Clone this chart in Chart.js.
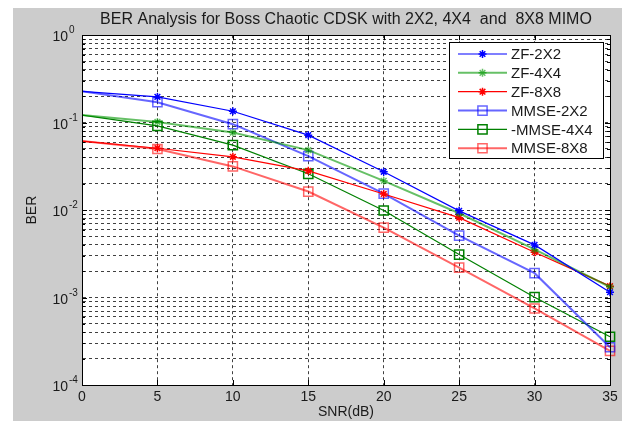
<!DOCTYPE html>
<html><head><meta charset="utf-8">
<style>html,body{margin:0;padding:0;background:#fff;overflow:hidden}canvas{display:block}</style>
<script src="https://cdn.jsdelivr.net/npm/chart.js@4"></script>
</head><body>
<canvas id="c" width="622" height="421"></canvas>
<script>
// ---- data ----
const snrValues = [0, 5, 10, 15, 20, 25, 30, 35];
const xTickLabels = ['0', '5', '10', '15', '20', '25', '30', '35'];
const seriesNames = ['ZF-2X2', 'ZF-4X4', 'ZF-8X8', 'MMSE-2X2', '-MMSE-4X4', 'MMSE-8X8'];
const berZF2x2   = [0.228, 0.197, 0.135, 0.072, 0.0274, 0.0098, 0.0040, 0.00115];
const berZF4x4   = [0.122, 0.102, 0.077, 0.0485, 0.0216, 0.0092, 0.00355, 0.00132];
const berZF8x8   = [0.0615, 0.051, 0.0407, 0.0281, 0.0153, 0.0082, 0.0033, 0.00135];
const berMMSE2x2 = [0.228, 0.171, 0.096, 0.0414, 0.0154, 0.0051, 0.0019, 0.00027];
const berMMSE4x4 = [0.122, 0.092, 0.0553, 0.026, 0.0099, 0.0031, 0.00101, 0.000356];
const berMMSE8x8 = [0.0615, 0.050, 0.0316, 0.0163, 0.0063, 0.0022, 0.00075, 0.000245];
const yDecades = [1e-4, 1e-3, 1e-2, 1e-1, 1];
const yTickBase = '10';
const yTickExponents = ['-4', '-3', '-2', '-1', '0'];
const yMinorMultipliers = [2, 3, 4, 5, 6, 7, 8, 9];
const chartTitle = 'BER Analysis for Boss Chaotic CDSK with 2X2, 4X4  and  8X8 MIMO';
const xTitle = 'SNR(dB)';
const yTitle = 'BER';

// ---- styles ----
const FONT = "'Liberation Sans', Arial, Helvetica, sans-serif";
const TEXT = '#1a1a1a';
const seriesList = [berZF2x2, berZF4x4, berZF8x8, berMMSE2x2, berMMSE4x4, berMMSE8x8];
const seriesStyles = [
  { color: '#0000ff', width: 1.2, point: 'star', radius: 4 },
  { color: 'rgba(0,150,0,0.6)', width: 2, point: 'star', radius: 4 },
  { color: '#ff0000', width: 1.2, point: 'star', radius: 4 },
  { color: 'rgba(0,0,255,0.6)', width: 2, point: 'rect', radius: 6.5 },
  { color: '#008000', width: 1.2, point: 'rect', radius: 6.5 },
  { color: 'rgba(255,0,0,0.6)', width: 2, point: 'rect', radius: 6.5 }
];

const yTickValues = [];
yDecades.forEach((d, i) => {
  yTickValues.push(d);
  if (i < yDecades.length - 1) yMinorMultipliers.forEach(m => yTickValues.push(d * m));
});
function majorIndex(v) {
  return yDecades.findIndex(d => Math.abs(d - v) < d * 1e-6);
}

Chart.defaults.font.family = FONT;
Chart.defaults.color = TEXT;

const datasets = seriesList.map((s, k) => ({
  label: seriesNames[k],
  data: snrValues.map((x, i) => ({ x: x, y: s[i] })),
  borderColor: seriesStyles[k].color,
  borderWidth: seriesStyles[k].width,
  pointStyle: seriesStyles[k].point,
  // marker at the left axis edge is hidden behind the frame in the reference
  pointRadius: snrValues.map((x, i) => (i === 0 ? 0 : seriesStyles[k].radius)),
  pointBorderColor: seriesStyles[k].color,
  pointBackgroundColor: 'rgba(0,0,0,0)',
  pointBorderWidth: 1.5,
  fill: false,
  tension: 0,
  clip: false
}));

const bgPlugin = {
  id: 'bg',
  beforeDraw(chart) {
    const { ctx, chartArea: a } = chart;
    ctx.save();
    ctx.fillStyle = '#ffffff';
    ctx.fillRect(0, 0, chart.width, chart.height);
    ctx.fillStyle = '#cccccc';
    ctx.fillRect(13, 8, chart.width - 13, chart.height - 8);
    ctx.fillStyle = '#ffffff';
    ctx.fillRect(a.left, a.top, a.right - a.left, a.bottom - a.top);
    ctx.restore();
  }
};

function drawMarker(ctx, style, x, y, r) {
  ctx.beginPath();
  if (style === 'star') {
    ctx.moveTo(x - r, y); ctx.lineTo(x + r, y);
    ctx.moveTo(x, y - r); ctx.lineTo(x, y + r);
    const d = r * Math.SQRT1_2;
    ctx.moveTo(x - d, y - d); ctx.lineTo(x + d, y + d);
    ctx.moveTo(x - d, y + d); ctx.lineTo(x + d, y - d);
  } else {
    const s = r * Math.SQRT1_2;
    ctx.rect(x - s, y - s, 2 * s, 2 * s);
  }
  ctx.stroke();
}

const frameLegendPlugin = {
  id: 'frameLegend',
  afterDraw(chart) {
    const { ctx, chartArea: a, scales } = chart;
    ctx.save();
    // inner tick marks
    ctx.strokeStyle = '#000';
    ctx.lineWidth = 1;
    ctx.setLineDash([]);
    ctx.beginPath();
    scales.x.ticks.forEach(t => {
      const px = Math.round(scales.x.getPixelForValue(t.value)) + 0.5;
      ctx.moveTo(px, a.bottom); ctx.lineTo(px, a.bottom - 5);
      ctx.moveTo(px, a.top); ctx.lineTo(px, a.top + 5);
    });
    yTickValues.forEach(v => {
      const py = Math.round(scales.y.getPixelForValue(v)) + 0.5;
      const len = majorIndex(v) >= 0 ? 5 : 3;
      ctx.moveTo(a.left, py); ctx.lineTo(a.left + len, py);
      ctx.moveTo(a.right, py); ctx.lineTo(a.right - len, py);
    });
    ctx.stroke();
    // box
    ctx.strokeRect(Math.round(a.left) + 0.5, Math.round(a.top) + 0.5,
      Math.round(a.right - a.left), Math.round(a.bottom - a.top));

    // y tick labels: base with superscript exponent
    ctx.fillStyle = TEXT;
    ctx.textBaseline = 'alphabetic';
    yDecades.forEach((d, i) => {
      const py = scales.y.getPixelForValue(d);
      ctx.font = '14px ' + FONT;
      ctx.textAlign = 'right';
      ctx.fillText(yTickBase, 68, py + 6);
      ctx.font = '10px ' + FONT;
      ctx.textAlign = 'left';
      ctx.fillText(yTickExponents[i], 69, py - 2);
    });

    // legend
    const lx = 449.5, ly = 42.5, lw = 154, lh = 116;
    ctx.fillStyle = '#ffffff';
    ctx.fillRect(lx, ly, lw, lh);
    ctx.strokeStyle = '#000';
    ctx.strokeRect(lx, ly, lw, lh);
    ctx.font = '15px ' + FONT;
    ctx.textBaseline = 'middle';
    ctx.textAlign = 'left';
    chart.data.datasets.forEach((ds, k) => {
      const st = seriesStyles[k];
      const y = 54 + k * 18.85;
      ctx.strokeStyle = st.color;
      ctx.lineWidth = st.width;
      ctx.beginPath();
      ctx.moveTo(458, y); ctx.lineTo(507, y);
      ctx.stroke();
      ctx.lineWidth = 1.5;
      drawMarker(ctx, st.point, 482.5, y, st.radius);
      ctx.fillStyle = TEXT;
      ctx.fillText(ds.label, 511, y + 1);
    });
    ctx.restore();
  }
};

new Chart(document.getElementById('c'), {
  type: 'line',
  data: { datasets: datasets },
  options: {
    responsive: false,
    animation: false,
    events: [],
    layout: { padding: { left: 0, right: 12, top: 0, bottom: 0 } },
    plugins: {
      legend: { display: false },
      tooltip: { enabled: false },
      title: {
        display: true,
        text: chartTitle,
        fullSize: false,
        color: TEXT,
        font: { size: 16, weight: 'normal', family: FONT },
        padding: { top: 10, bottom: 6 }
      }
    },
    scales: {
      x: {
        type: 'linear',
        min: 0, max: 35,
        afterBuildTicks(s) { s.ticks = snrValues.map(v => ({ value: v })); },
        afterFit(s) { s.height = 36; },
        ticks: {
          autoSkip: false, maxRotation: 0, padding: 4,
          color: TEXT,
          font: { size: 14 },
          callback(v) { const i = snrValues.indexOf(v); return i >= 0 ? xTickLabels[i] : ''; }
        },
        grid: { color: 'rgba(0,0,0,0.75)', lineWidth: 1, drawTicks: false },
        border: { display: true, color: '#000', width: 1, dash: [3, 3] },
        title: { display: true, text: xTitle, color: TEXT, font: { size: 14 }, padding: { top: 0, bottom: 0 } }
      },
      y: {
        type: 'logarithmic',
        min: 1e-4, max: 1,
        afterBuildTicks(s) { s.ticks = yTickValues.map(v => ({ value: v })); },
        afterFit(s) { s.width = 82; },
        ticks: {
          autoSkip: false, padding: 4,
          callback() { return ''; }
        },
        grid: { color: 'rgba(0,0,0,0.75)', lineWidth: 1, drawTicks: false },
        border: { display: true, color: '#000', width: 1, dash: [3, 3] },
        title: { display: true, text: yTitle, color: TEXT, font: { size: 14 }, padding: { top: 24, bottom: 0 } }
      }
    }
  },
  plugins: [bgPlugin, frameLegendPlugin]
});
</script>
</body></html>
